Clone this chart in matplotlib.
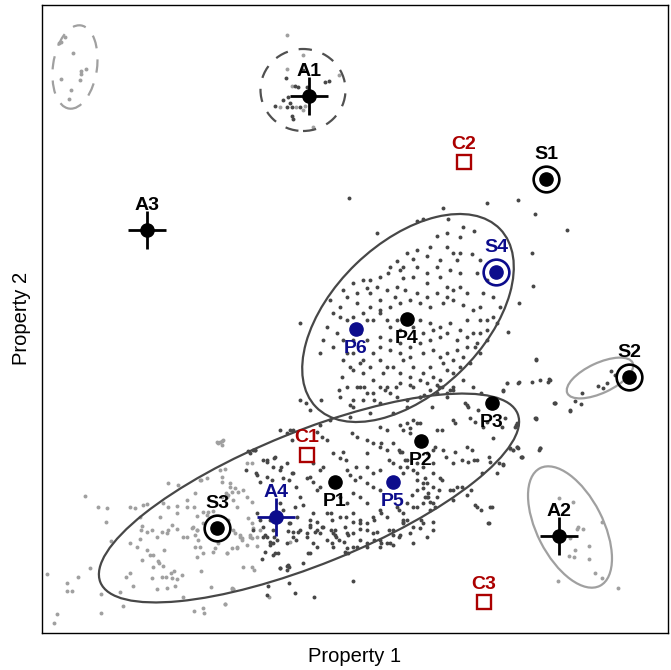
import matplotlib
matplotlib.use('Agg')
import matplotlib.pyplot as plt
from matplotlib.patches import Ellipse

plt.rcParams['font.family'] = ['Liberation Sans', 'DejaVu Sans']

NAVY = '#0c0c8c'
RED = '#ab0000'
BLACK = '#000000'
DARK = '#474747'
LIGHT = '#a0a0a0'

# sample points (Property 1, Property 2), two shades
dark_pts = [
    # lower band, right half
    (263, 210), (267, 208), (280, 240), (287, 237), (293, 240), (317, 238), (322, 233), (327, 230),
    (333, 217), (340, 212), (343, 218), (352, 237), (357, 233), (367, 230), (380, 243), (387, 240),
    (400, 245), (410, 242), (417, 247), (373, 227), (380, 223), (387, 220), (393, 227), (400, 218),
    (273, 203), (280, 200), (287, 207), (293, 197), (267, 193), (272, 190), (283, 192), (313, 207),
    (320, 200), (323, 203), (307, 192), (313, 188), (320, 183), (347, 200), (350, 195), (355, 190),
    (360, 193), (367, 203), (373, 197), (380, 200), (393, 207), (400, 203), (407, 210), (413, 200),
    (427, 217), (433, 220), (417, 180), (423, 187), (433, 183), (407, 167), (413, 163), (423, 167),
    (430, 160), (367, 187), (373, 183), (380, 180), (353, 177), (360, 173), (367, 167), (340, 173),
    (347, 167), (353, 157), (360, 150), (367, 147), (373, 153), (380, 160), (387, 153), (397, 163),
    (403, 157), (407, 150), (413, 143), (423, 147), (433, 140), (393, 140), (400, 135), (410, 137),
    (373, 137), (380, 130), (387, 127), (353, 137), (360, 130), (340, 153), (345, 143), (347, 137),
    (327, 157), (332, 150), (323, 143), (333, 137), (327, 130), (313, 157), (310, 150), (317, 140),
    (307, 133), (313, 127), (300, 173), (303, 165), (295, 163), (297, 153), (290, 147), (300, 140),
    (293, 133), (287, 127), (280, 167), (283, 160), (277, 153), (270, 150), (273, 140), (267, 133),
    (277, 130), (257, 157), (260, 150), (263, 143), (367, 123), (380, 123), (393, 125), (413, 127),
    (427, 133), (333, 123), (347, 122), (357, 123), (433, 167), (437, 173), (427, 173),
    (257, 195), (260, 188), (253, 140), (265, 135), (250, 217), (253, 220),
    (263, 133), (270, 128), (270, 125), (273, 127), (265, 118), (275, 117), (273, 115), (262, 111),
    (280, 102), (287, 100), (288, 105), (288, 139), (293, 138), (298, 138), (307, 137), (308, 117),
    (310, 145), (317, 148), (322, 143), (315, 138), (320, 137), (332, 127), (335, 135), (336, 133),
    (335, 140), (345, 118), (348, 117), (344, 128), (348, 135), (353, 148), (360, 141), (367, 127),
    (377, 138), (390, 127), (393, 135), (403, 148), (353, 89), (268, 84), (295, 77), (314, 73),
    (280, 102), (287, 104),
    (417, 190), (428, 177), (439, 180), (417, 163), (435, 163), (453, 170), (421, 150), (403, 147),
    (399, 133), (381, 127), (389, 140), (374, 130), (367, 140), (353, 123), (346, 117), (339, 130),
    (331, 140), (317, 123), (310, 117), (303, 107), (289, 103), (278, 117), (296, 130), (274, 133),
    (289, 147), (310, 143), (331, 157), (346, 153), (360, 147), (374, 150), (381, 157), (399, 160),
    # between the two bands
    (410, 285), (437, 285), (442, 283), (450, 280), (473, 283), (507, 287), (518, 287), (532, 288),
    (540, 290), (548, 288), (503, 280), (555, 267), (407, 270), (420, 273), (432, 263), (447, 273),
    (465, 267), (468, 263), (478, 260), (453, 250), (455, 247), (470, 252), (475, 248), (483, 243),
    (487, 248), (505, 252), (502, 243), (517, 247), (515, 243), (535, 252), (407, 247), (420, 247),
    (413, 250), (403, 240), (410, 237), (437, 240), (442, 240), (493, 232), (510, 222), (513, 220),
    (518, 222), (522, 213), (540, 222), (443, 220), (455, 218), (472, 220), (462, 210), (468, 208),
    (477, 210), (490, 208), (482, 197), (497, 197), (503, 205), (402, 218), (405, 210), (407, 203),
    (403, 197), (417, 207), (423, 203), (417, 197), (425, 192), (427, 187), (433, 207), (433, 197),
    (442, 190), (440, 192), (423, 182), (428, 173), (430, 168), (425, 173), (412, 175), (403, 150),
    (420, 142), (433, 148), (450, 180), (457, 183), (462, 183), (467, 175), (475, 165), (477, 163),
    (490, 163), (488, 147),
    (306, 267), (321, 270), (339, 280), (353, 270), (364, 283), (374, 270), (385, 280), (396, 283),
    (424, 275), (439, 283), (453, 280), (467, 265), (481, 277), (255, 220), (267, 210), (274, 212),
    (246, 200), (256, 197), (281, 203), (292, 197), (289, 190), (296, 183), (310, 193), (317, 180),
    (346, 210), (356, 203), (367, 217), (381, 227), (389, 210), (399, 220), (435, 223), (446, 213),
    (453, 207), (467, 223), (474, 210), (489, 213), (499, 207), (517, 223), (539, 220), (521, 213),
    (453, 180), (471, 180), (481, 160), (492, 163), (489, 147), (267, 75), (289, 87),
    (300, 270), (310, 260), (330, 250), (290, 240), (350, 265), (320, 245),
    (248, 219), (255, 220), (275, 213), (292, 230),
    # upper band
    (349, 472), (443, 462), (487, 467), (518, 470), (535, 456), (567, 440), (532, 417), (533, 384),
    (519, 367), (508, 338), (536, 311), (549, 291), (554, 267), (570, 260), (536, 252), (517, 245),
    (300, 347), (320, 317), (377, 437), (417, 449), (423, 451),
    (448, 451), (463, 443), (474, 439), (437, 434), (447, 423), (460, 417), (472, 416), (457, 410),
    (427, 414), (413, 411), (397, 409), (388, 397), (437, 403), (440, 393), (450, 400), (460, 397),
    (477, 397), (483, 377), (460, 383), (447, 383), (427, 387), (413, 393), (403, 392), (397, 383),
    (380, 370), (367, 382), (357, 377), (347, 373), (357, 367), (370, 363), (380, 360), (390, 363),
    (400, 367), (410, 370), (420, 367), (430, 363), (443, 367), (453, 370), (463, 365), (473, 360),
    (480, 363), (493, 353), (487, 340), (473, 337), (460, 340), (450, 347), (440, 343), (430, 347),
    (420, 350), (397, 350), (387, 350), (380, 357), (367, 350), (353, 353), (340, 353),
    (337, 337), (343, 330), (333, 323), (343, 310), (353, 317), (363, 310), (373, 317), (380, 323),
    (390, 320), (400, 317), (410, 323), (420, 327), (430, 330), (440, 333), (447, 317), (457, 320),
    (467, 323), (477, 327), (480, 317), (470, 307), (460, 303), (447, 300), (433, 293), (423, 297),
    (413, 303), (403, 310), (393, 303), (383, 297), (373, 290), (363, 297), (353, 300), (342, 293),
    (360, 283), (373, 277), (387, 283), (400, 287), (413, 283), (427, 287), (440, 290), (363, 270),
    (353, 263), (380, 267), (397, 273), (407, 263), (420, 273), (393, 257), (370, 257), (350, 253),
    (370, 377), (377, 383), (387, 380), (395, 373), (405, 380), (417, 377), (427, 373), (437, 377),
    (447, 373), (453, 380), (467, 377), (363, 357), (373, 350), (390, 343), (400, 340), (413, 343),
    (423, 337), (433, 340), (447, 337), (457, 330), (467, 333), (480, 337), (487, 350), (360, 337),
    (353, 330), (367, 330), (380, 333), (390, 330), (400, 327), (410, 313), (423, 317), (433, 320),
    (440, 313), (453, 310), (463, 313), (347, 317), (350, 303), (360, 307), (370, 303), (380, 310),
    (387, 303), (400, 297), (410, 293), (420, 290), (430, 303), (443, 307), (453, 297), (380, 283),
    (390, 277), (367, 277), (357, 283), (347, 283), (340, 273), (430, 280), (437, 277), (330, 370),
    (333, 357), (327, 343), (323, 330), (340, 363), (347, 350), (357, 343), (370, 390), (380, 393),
    (390, 403), (403, 403), (417, 403), (427, 397), (440, 410), (453, 417), (447, 437), (460, 433),
    (430, 423), (417, 420), (407, 417), (400, 400), (363, 390), (353, 387), (343, 380), (480, 410),
    (487, 390), (493, 373), (500, 363), (497, 347), (480, 350), (467, 350), (475, 323), (487, 330),
    (463, 290), (453, 283), (447, 277),
    # around S2
    (611, 299), (615, 295), (598, 284), (603, 282), (607, 287), (582, 277), (575, 269), (581, 266),
    (555, 267), (570, 259), (536, 251), (550, 290), (536, 310), (519, 288), (503, 279), (516, 245),
    (540, 222), (522, 213), (517, 223), (503, 206),
    # around A1
    (303, 600), (286, 592), (295, 584), (298, 583), (325, 588), (329, 589), (288, 573), (283, 570),
    (275, 564), (287, 563), (292, 563), (300, 563), (292, 554), (293, 551), (290, 567), (307, 583),
]

light_pts = [
    # lower band, left end
    (85, 174), (98, 163), (107, 162), (106, 148), (111, 129), (90, 102), (78, 93), (67, 87),
    (67, 79), (72, 79), (47, 96), (57, 56), (54, 47), (101, 57), (123, 64), (101, 76),
    (120, 78), (133, 84), (126, 93), (130, 97), (137, 123), (140, 131), (142, 144), (140, 153),
    (130, 163), (135, 162), (143, 165), (147, 166), (147, 138), (152, 140), (147, 120), (150, 115),
    (142, 110), (153, 103), (153, 115), (157, 133), (162, 138), (158, 109), (159, 107), (163, 104),
    (164, 120), (168, 140), (167, 137), (172, 145), (177, 141), (163, 167), (168, 163), (177, 164),
    (168, 187), (178, 185), (160, 153), (152, 92), (162, 93), (166, 93), (172, 92), (177, 91),
    (175, 84), (157, 81), (167, 82), (171, 97), (174, 99), (182, 95), (183, 73), (194, 59),
    (203, 62), (204, 57), (225, 66), (232, 81), (233, 81), (211, 83), (201, 99), (197, 113),
    (203, 117), (213, 118), (227, 117), (232, 122), (237, 123), (200, 123), (195, 123), (198, 130),
    (192, 142), (197, 140), (195, 135), (203, 147), (207, 155), (197, 154), (194, 163), (203, 158),
    (208, 158), (213, 159), (183, 133), (187, 133), (215, 122), (218, 127), (230, 183), (232, 178),
    (228, 175), (226, 177), (222, 188), (201, 190), (207, 192), (220, 200), (225, 201), (222, 193),
    (222, 173), (227, 173), (187, 163), (177, 157), (130, 127), (141, 140),
    (220, 228), (222, 225), (200, 190), (195, 177), (187, 170), (193, 143), (197, 140), (230, 187),
    (235, 182), (238, 178), (233, 170), (237, 163), (228, 150), (233, 140), (240, 135), (247, 207),
    (252, 207), (243, 180), (247, 173), (252, 168), (248, 152), (252, 147), (250, 135), (257, 133),
    (242, 130), (247, 125),
    (235, 137), (227, 117), (237, 122), (242, 132), (240, 133), (250, 133), (252, 132), (253, 142),
    (260, 140), (257, 124), (243, 103), (252, 103), (254, 100), (290, 128), (269, 73), (232, 82),
    (233, 81), (225, 66), (217, 228), (223, 230), (218, 227), (222, 229),
    (507, 287), (513, 220), (510, 221),
    # around A2
    (559, 172), (573, 168), (578, 143), (583, 141), (577, 141), (570, 132), (575, 120), (569, 114),
    (574, 113), (589, 124), (589, 111), (602, 148), (595, 97), (602, 92), (558, 89), (618, 82),
    # around A1
    (287, 635), (287, 601), (339, 595), (303, 615), (280, 563), (296, 563), (305, 564), (292, 584),
    (303, 560), (313, 543),
    # top left group
    (65, 633), (61, 628), (59, 627), (73, 617), (81, 599), (81, 596), (86, 601), (61, 591),
    (80, 590), (71, 580), (69, 571),
]

# group ellipses: centre x, centre y, width, height, angle, colour, dashed
ellipses = [
    (408, 352, 256, 150, 44, DARK, False),
    (309, 172, 450, 133, 22, DARK, False),
    (600, 292, 72, 30, 25, LIGHT, False),
    (570, 143, 132, 66, 117, LIGHT, False),
    (303, 580, 85, 82, 0, '#505050', True),
    (75, 603, 44, 84, -8, LIGHT, True),
]

a_names = ['A1', 'A2', 'A3', 'A4']
a_x = [309, 559, 147, 276]
a_y = [574, 134, 440, 153]
a_col = [BLACK, BLACK, BLACK, NAVY]

s_names = ['S1', 'S2', 'S3', 'S4']
s_x = [546, 629, 217, 496]
s_y = [491, 293, 142, 398]
s_col = [BLACK, BLACK, BLACK, NAVY]

c_names = ['C1', 'C2', 'C3']
c_x = [307, 464, 484]
c_y = [215, 508, 68]

p_names = ['P1', 'P2', 'P3', 'P4', 'P5', 'P6']
p_x = [335, 421, 492, 407, 393, 356]
p_y = [188, 229, 267, 351, 188, 341]
p_col = [BLACK, BLACK, BLACK, BLACK, NAVY, NAVY]

fig = plt.figure(figsize=(6.71, 6.70), dpi=100)
ax = fig.add_axes([42 / 671, 37 / 670, 626 / 671, 628.5 / 670])

ax.scatter([p[0] for p in light_pts], [p[1] for p in light_pts], s=8, c=LIGHT, linewidths=0, zorder=1)
ax.scatter([p[0] for p in dark_pts], [p[1] for p in dark_pts], s=8, c=DARK, linewidths=0, zorder=1)

for cx, cy, w, h, ang, col, dashed in ellipses:
    ls = (0, (6, 5)) if dashed else '-'
    ax.add_patch(Ellipse((cx, cy), w, h, angle=ang, fill=False, ec=col, lw=1.6, ls=ls, zorder=2))

label_kw = dict(textcoords='offset points', ha='center', va='baseline',
                fontsize=14, fontweight='bold', zorder=5)

for name, x, y, col in zip(a_names, a_x, a_y, a_col):
    ax.plot(x, y, marker='+', ms=27, mew=2, color=col, ls='none', zorder=3)
    ax.plot(x, y, marker='o', ms=9.5, color=col, ls='none', zorder=4)
    ax.annotate(name, (x, y), xytext=(0, 14.5), color=col, **label_kw)

for name, x, y, col in zip(s_names, s_x, s_y, s_col):
    ax.plot(x, y, marker='o', ms=18.5, mfc='none', mec=col, mew=1.9, ls='none', zorder=3)
    ax.plot(x, y, marker='o', ms=9.5, color=col, ls='none', zorder=4)
    ax.annotate(name, (x, y), xytext=(0, 14.5), color=col, **label_kw)

for name, x, y in zip(c_names, c_x, c_y):
    ax.plot(x, y, marker='s', ms=10, mfc='none', mec=RED, mew=1.7, ls='none', zorder=3)
    ax.annotate(name, (x, y), xytext=(0, 9.5), color=RED, **label_kw)

for name, x, y, col in zip(p_names, p_x, p_y, p_col):
    ax.plot(x, y, marker='o', ms=9.5, color=col, ls='none', zorder=4)
    ax.annotate(name, (x, y), xytext=(0, -17.5), color=col, **label_kw)

ax.set_xlim(42, 668)
ax.set_ylim(37, 665.5)
ax.set_xticks([])
ax.set_yticks([])
for sp in ax.spines.values():
    sp.set_linewidth(1.0)

ax.set_xlabel('Property 1', fontsize=14.5, labelpad=10)
ax.set_ylabel('Property 2', fontsize=14.5, labelpad=8)

fig.savefig('out.png', dpi=100)
